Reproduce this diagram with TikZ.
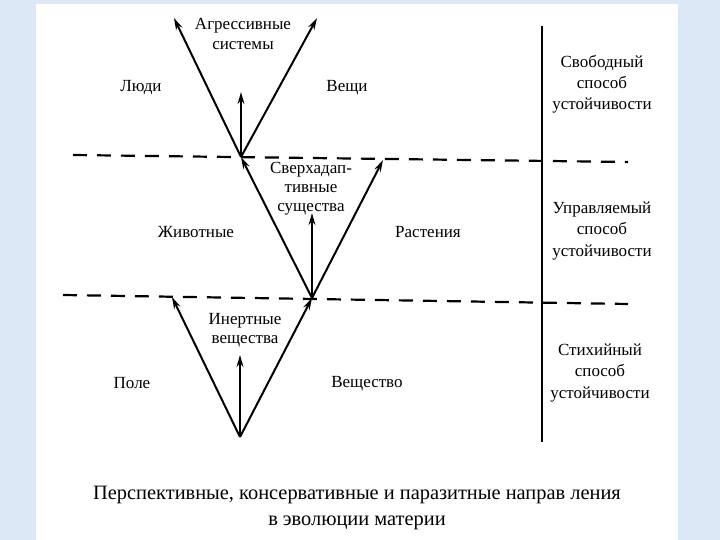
\documentclass[tikz,border=0pt]{standalone}
\usepackage{fontspec}
\setmainfont{Liberation Serif}
\usepackage{xcolor}
\usepackage{tikz}
\usetikzlibrary{positioning, arrows.meta}

\definecolor{slideblue}{RGB}{220,232,246}

\begin{document}
\begin{tikzpicture}[x=0.5pt, y=-0.5pt, >={Stealth[length=6pt,width=3.4pt]},
        lbl/.style={font=\fontsize{8.5}{9.6}\selectfont, align=center, inner sep=0pt},
        side/.style={font=\fontsize{8.5}{10.6}\selectfont, align=center, inner sep=0pt},
        level/.style={line width=1.1pt, dash pattern=on 7pt off 5pt},
        branch/.style={->, line width=1pt}]
                \useasboundingbox (0,0) rectangle (720,540);
                \fill[slideblue] (0,0) rectangle (720,540);
                \fill[white] (36,4) rectangle (678,540);

                % apexes and arrow ends
                \coordinate (V0) at (240,437);
                \coordinate (V1) at (312,298);
                \coordinate (V2) at (241,157);
                \coordinate (fieldEnd) at (172,297);
                \coordinate (inertEnd) at (240,355);
                \coordinate (plantEnd) at (383,160);
                \coordinate (superEnd) at (312,213);
                \coordinate (peopleEnd) at (174,18);
                \coordinate (thingsEnd) at (317,18);
                \coordinate (aggrEnd) at (241,92);

                % levels
                \coordinate (upL) at (73,155);
                \coordinate (upR) at (628,162);
                \coordinate (loL) at (63,295);
                \coordinate (loR) at (628,304);
                \coordinate (axisT) at (542,26);
                \coordinate (axisB) at (542,442);
                \draw[level] (upL) -- (upR);
                \draw[level] (loL) -- (loR);
                \draw[line width=1.3pt] (axisT) -- (axisB);

                \path[branch]
                (V0) edge (fieldEnd)
                (V0) edge (V1)
                (V0) edge (inertEnd)
                (V1) edge (V2)
                (V1) edge (plantEnd)
                (V1) edge (superEnd)
                (V2) edge (peopleEnd)
                (V2) edge (thingsEnd)
                (V2) edge (aggrEnd);

                \node[lbl] (aggr) at (243,34) {Агрессивные\\системы};
                \node[lbl] (people) at (141,88) {Люди};
                \node[lbl] (things) at (347,88) {Вещи};
                \node[lbl] (superad) at (311,189) {Сверхадап-\\тивные\\существа};
                \node[lbl] (animals) at (196,232) {Животные};
                \node[lbl] (plants) at (428,232) {Растения};
                \node[lbl] (inert) at (245,330) {Инертные\\вещества};
                \node[lbl] (field) at (132,383) {Поле};
                \node[lbl] (matter) at (367,384) {Вещество};

                \node[side] (free) at (602,84) {Свободный\\способ\\устойчивости};
                \node[side] (ruled) at (602,231) {Управляемый\\способ\\устойчивости};
                \node[side] (wild) at (600,373) {Стихийный\\способ\\устойчивости};

                \node[font=\fontsize{10.2}{12.6}\selectfont, align=center, inner sep=0pt] (caption) at (357,508)
                {Перспективные, консервативные и паразитные направ ления\\в эволюции материи};
            \end{tikzpicture}
\end{document}
